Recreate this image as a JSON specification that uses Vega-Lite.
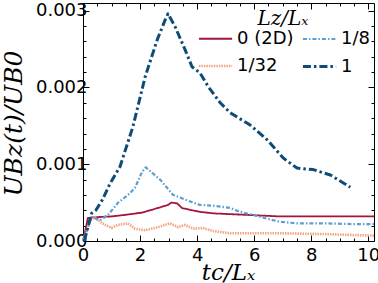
{
  "$schema": "https://vega.github.io/schema/vega-lite/v6.json",
  "width": 291,
  "height": 238,
  "autosize": {"type": "none"},
  "padding": {"left": 83, "top": 3, "right": 4, "bottom": 42},
  "background": "white",
  "config": {
    "view": {"stroke": null},
    "axis": {
      "domainColor": "black",
      "domainWidth": 1,
      "tickColor": "black",
      "tickWidth": 1,
      "labelColor": "black",
      "labelFont": "DejaVu Sans",
      "labelFontSize": 18,
      "titleColor": "black",
      "titleFont": "DejaVu Serif",
      "titleFontStyle": "italic",
      "titleFontWeight": "normal",
      "titleFontSize": 23,
      "grid": false
    },
    "legend": {
      "labelFont": "DejaVu Sans",
      "labelFontSize": 18,
      "labelColor": "black",
      "titleFont": "DejaVu Serif",
      "titleFontStyle": "italic",
      "titleFontWeight": "normal",
      "titleFontSize": 20,
      "titleColor": "black"
    }
  },
  "data": {
    "values": [
      {"s": "0 (2D)", "t": 0.0, "u": 0.0},
      {"s": "0 (2D)", "t": 0.05, "u": 0.00008},
      {"s": "0 (2D)", "t": 0.17, "u": 0.00030},
      {"s": "0 (2D)", "t": 0.42, "u": 0.00031},
      {"s": "0 (2D)", "t": 1.0, "u": 0.00032},
      {"s": "0 (2D)", "t": 1.47, "u": 0.00034},
      {"s": "0 (2D)", "t": 2.07, "u": 0.00037},
      {"s": "0 (2D)", "t": 2.63, "u": 0.00043},
      {"s": "0 (2D)", "t": 2.98, "u": 0.00047},
      {"s": "0 (2D)", "t": 3.1, "u": 0.00050},
      {"s": "0 (2D)", "t": 3.3, "u": 0.00049},
      {"s": "0 (2D)", "t": 3.47, "u": 0.00043},
      {"s": "0 (2D)", "t": 3.82, "u": 0.00040},
      {"s": "0 (2D)", "t": 4.1, "u": 0.00038},
      {"s": "0 (2D)", "t": 4.56, "u": 0.00036},
      {"s": "0 (2D)", "t": 5.75, "u": 0.00034},
      {"s": "0 (2D)", "t": 6.9, "u": 0.00032},
      {"s": "0 (2D)", "t": 8.0, "u": 0.00032},
      {"s": "0 (2D)", "t": 10.2, "u": 0.00032},
      {"s": "1/32", "t": 0.0, "u": 0.0},
      {"s": "1/32", "t": 0.25, "u": 0.00027},
      {"s": "1/32", "t": 0.42, "u": 0.00031},
      {"s": "1/32", "t": 0.67, "u": 0.00023},
      {"s": "1/32", "t": 1.0, "u": 0.00017},
      {"s": "1/32", "t": 1.23, "u": 0.00021},
      {"s": "1/32", "t": 1.58, "u": 0.00023},
      {"s": "1/32", "t": 1.82, "u": 0.00016},
      {"s": "1/32", "t": 2.18, "u": 0.00014},
      {"s": "1/32", "t": 2.63, "u": 0.00018},
      {"s": "1/32", "t": 3.05, "u": 0.00023},
      {"s": "1/32", "t": 3.33, "u": 0.00018},
      {"s": "1/32", "t": 3.58, "u": 0.00021},
      {"s": "1/32", "t": 3.86, "u": 0.00016},
      {"s": "1/32", "t": 4.2, "u": 0.00017},
      {"s": "1/32", "t": 4.56, "u": 0.00013},
      {"s": "1/32", "t": 5.16, "u": 0.00010},
      {"s": "1/32", "t": 5.75, "u": 0.00010},
      {"s": "1/32", "t": 7.0, "u": 0.00010},
      {"s": "1/32", "t": 8.5, "u": 0.00009},
      {"s": "1/32", "t": 10.2, "u": 0.00007},
      {"s": "1/8", "t": 0.0, "u": 0.0},
      {"s": "1/8", "t": 0.3, "u": 0.00031},
      {"s": "1/8", "t": 0.6, "u": 0.00027},
      {"s": "1/8", "t": 0.88, "u": 0.00034},
      {"s": "1/8", "t": 1.23, "u": 0.00050},
      {"s": "1/8", "t": 1.58, "u": 0.00060},
      {"s": "1/8", "t": 1.82, "u": 0.00069},
      {"s": "1/8", "t": 2.07, "u": 0.00090},
      {"s": "1/8", "t": 2.2, "u": 0.00096},
      {"s": "1/8", "t": 2.7, "u": 0.00080},
      {"s": "1/8", "t": 3.16, "u": 0.00060},
      {"s": "1/8", "t": 3.65, "u": 0.00053},
      {"s": "1/8", "t": 4.1, "u": 0.00047},
      {"s": "1/8", "t": 4.56, "u": 0.00046},
      {"s": "1/8", "t": 5.16, "u": 0.00043},
      {"s": "1/8", "t": 5.5, "u": 0.00038},
      {"s": "1/8", "t": 5.96, "u": 0.00034},
      {"s": "1/8", "t": 6.45, "u": 0.00029},
      {"s": "1/8", "t": 6.9, "u": 0.00025},
      {"s": "1/8", "t": 7.5, "u": 0.00023},
      {"s": "1/8", "t": 8.5, "u": 0.00023},
      {"s": "1/8", "t": 9.5, "u": 0.00022},
      {"s": "1/8", "t": 10.2, "u": 0.00022},
      {"s": "1", "t": 0.05, "u": 0.0},
      {"s": "1", "t": 0.15, "u": 0.00015},
      {"s": "1", "t": 0.3, "u": 0.00036},
      {"s": "1", "t": 0.45, "u": 0.00040},
      {"s": "1", "t": 0.67, "u": 0.00053},
      {"s": "1", "t": 0.95, "u": 0.00075},
      {"s": "1", "t": 1.3, "u": 0.00097},
      {"s": "1", "t": 1.75, "u": 0.00149},
      {"s": "1", "t": 2.18, "u": 0.00214},
      {"s": "1", "t": 2.6, "u": 0.00262},
      {"s": "1", "t": 2.88, "u": 0.00288},
      {"s": "1", "t": 2.98, "u": 0.00296},
      {"s": "1", "t": 3.23, "u": 0.00279},
      {"s": "1", "t": 3.58, "u": 0.00249},
      {"s": "1", "t": 3.82, "u": 0.00227},
      {"s": "1", "t": 4.1, "u": 0.00219},
      {"s": "1", "t": 4.39, "u": 0.00201},
      {"s": "1", "t": 4.81, "u": 0.00180},
      {"s": "1", "t": 5.16, "u": 0.00167},
      {"s": "1", "t": 5.86, "u": 0.00151},
      {"s": "1", "t": 6.45, "u": 0.00132},
      {"s": "1", "t": 7.02, "u": 0.00108},
      {"s": "1", "t": 7.5, "u": 0.00095},
      {"s": "1", "t": 8.07, "u": 0.00093},
      {"s": "1", "t": 8.67, "u": 0.00086},
      {"s": "1", "t": 9.37, "u": 0.00070}
    ]
  },
  "layer": [
    {
      "mark": {"type": "line", "strokeCap": "butt", "strokeJoin": "round"},
      "encoding": {
        "x": {
          "field": "t", "type": "quantitative",
          "scale": {"domain": [0, 10.2], "nice": false, "zero": false},
          "axis": {
            "orient": "bottom",
            "title": "tc/Lₓ",
            "titleX": 145,
            "titleY": 38,
            "titleAlign": "center",
            "titleBaseline": "alphabetic",
            "values": [0, 0.5, 1, 1.5, 2, 2.5, 3, 3.5, 4, 4.5, 5, 5.5, 6, 6.5, 7, 7.5, 8, 8.5, 9, 9.5, 10],
            "labelExpr": "abs(datum.value/2 - round(datum.value/2)) < 0.01 ? format(datum.value, 'd') : ''",
            "tickSize": {"condition": {"test": "abs(datum.value/2 - round(datum.value/2)) < 0.01", "value": -6}, "value": -3},
            "labelPadding": 11,
            "labelFlush": false,
            "labelOverlap": false
          }
        },
        "y": {
          "field": "u", "type": "quantitative",
          "scale": {"domain": [0, 0.0031], "nice": false},
          "axis": {
            "orient": "left",
            "title": "UBz(t)/UB0",
            "titleFontSize": 25,
            "titleAngle": 270,
            "titleX": -62,
            "titleY": 120,
            "titleAlign": "center",
            "titleBaseline": "alphabetic",
            "values": [0, 0.0002, 0.0004, 0.0006, 0.0008, 0.001, 0.0012, 0.0014, 0.0016, 0.0018, 0.002, 0.0022, 0.0024, 0.0026, 0.0028, 0.003],
            "labelExpr": "abs(datum.value*1000 - round(datum.value*1000)) < 0.01 ? format(datum.value, '.3f') : ''",
            "tickSize": {"condition": {"test": "abs(datum.value*1000 - round(datum.value*1000)) < 0.01", "value": -6}, "value": -3},
            "labelPadding": 2,
            "labelFlush": false,
            "labelOverlap": false
          }
        },
        "color": {
          "field": "s", "type": "nominal",
          "scale": {"domain": ["0 (2D)", "1/8", "1/32", "1"], "range": ["#a3153a", "#5b9fd3", "#f4a582", "#0f4c75"]},
          "legend": {
            "title": "Lz/Lₓ",
            "orient": "none",
            "legendX": 114,
            "legendY": 6,
            "columns": 2,
            "direction": "horizontal",
            "symbolType": "stroke",
            "symbolSize": 1100,
            "columnPadding": 2,
            "rowPadding": -11,
            "labelOffset": 3,
            "titleAnchor": "middle",
            "titleAlign": "center",
            "titlePadding": -8
          }
        },
        "strokeDash": {
          "field": "s", "type": "nominal",
          "scale": {"domain": ["0 (2D)", "1/8", "1/32", "1"], "range": [[1, 0], [4, 2, 1.5, 2], [1.5, 1], [8, 3, 2.5, 3]]},
          "legend": {"title": "Lz/Lₓ"}
        },
        "strokeWidth": {
          "field": "s", "type": "nominal",
          "scale": {"domain": ["0 (2D)", "1/8", "1/32", "1"], "range": [1.8, 3, 2.6, 4.4]},
          "legend": {"title": "Lz/Lₓ"}
        },
        "order": {"field": "t", "type": "quantitative"}
      }
    },
    {
      "mark": {"type": "point", "opacity": 0},
      "encoding": {
        "x": {
          "field": "t", "type": "quantitative",
          "axis": {
            "orient": "top",
            "title": null,
            "labels": false,
            "values": [0, 0.5, 1, 1.5, 2, 2.5, 3, 3.5, 4, 4.5, 5, 5.5, 6, 6.5, 7, 7.5, 8, 8.5, 9, 9.5, 10],
            "tickSize": {"condition": {"test": "abs(datum.value/2 - round(datum.value/2)) < 0.01", "value": -6}, "value": -3}
          }
        },
        "y": {
          "field": "u", "type": "quantitative",
          "axis": {
            "orient": "right",
            "title": null,
            "labels": false,
            "values": [0, 0.0002, 0.0004, 0.0006, 0.0008, 0.001, 0.0012, 0.0014, 0.0016, 0.0018, 0.002, 0.0022, 0.0024, 0.0026, 0.0028, 0.003],
            "tickSize": {"condition": {"test": "abs(datum.value*1000 - round(datum.value*1000)) < 0.01", "value": -6}, "value": -3}
          }
        }
      }
    }
  ],
  "resolve": {"axis": {"x": "independent", "y": "independent"}}
}
